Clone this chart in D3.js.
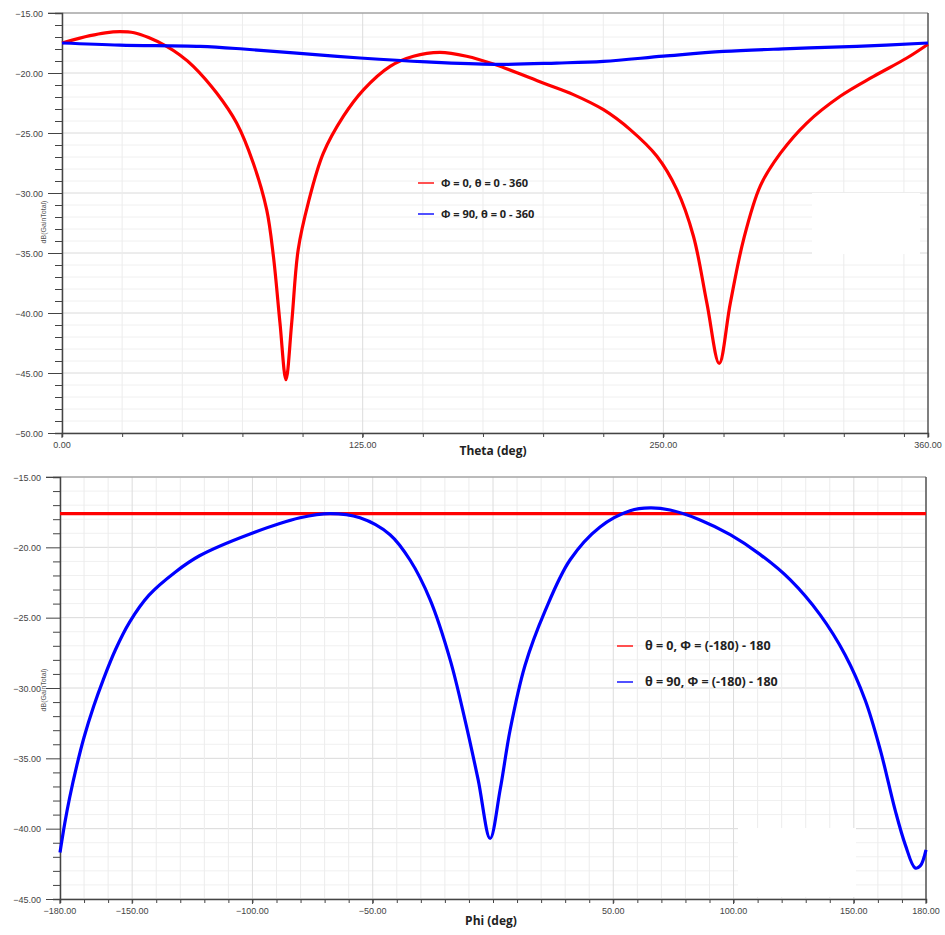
<!DOCTYPE html>
<html>
<head>
<meta charset="utf-8">
<script src="https://cdn.jsdelivr.net/npm/d3@7"></script>
<style>
  body { margin: 0; background: #fff; }
  svg { display: block; }
  .tick-label { font-family: "Liberation Sans", Arial, sans-serif; font-size: 9px; fill: #444; }
  .axis-title { font-family: "Open Sans", sans-serif; font-size: 12px; font-weight: bold; fill: #222; }
  .y-title { font-family: "Liberation Sans", Arial, sans-serif; font-size: 7px; fill: #555; }
  .legend { font-family: "Open Sans", sans-serif; font-weight: bold; fill: #222; }
</style>
</head>
<body>
<svg width="945" height="935"></svg>
<script>
// gain vs theta (phi = 0 / phi = 90)
var thetaRed = [0, 11.6, 18, 24.1, 30, 36, 43.5, 49, 54.6, 64.3, 72.6, 79.5, 85.1, 87.9, 90.6, 93.1, 95.5, 98.2, 102.4, 108.6, 117, 125.3, 136.4, 146.1, 157.1, 168.2, 180, 200, 212.6, 225.1, 236.2, 247.3, 255.6, 262.5, 268.1, 273.2, 277.8, 283.3, 290.3, 298.6, 309.6, 323.5, 337.4, 351.2, 360];
var gainRed = [-17.5, -16.89, -16.65, -16.56, -16.65, -17.05, -17.78, -18.5, -19.44, -21.67, -24.17, -27.5, -31.4, -35.3, -40.8, -45.56, -40.8, -34.7, -30.8, -26.7, -23.6, -21.4, -19.44, -18.6, -18.28, -18.6, -19.3, -20.83, -21.8, -23.06, -24.72, -26.94, -29.72, -33.6, -39.2, -44.2, -39.2, -33.9, -29.4, -26.7, -24.17, -21.94, -20.28, -18.75, -17.6];
var thetaBlue = [0, 24.1, 57.4, 75.4, 96.2, 123.9, 151.6, 180, 205.6, 225.1, 250, 275, 302.6, 330.4, 360];
var gainBlue = [-17.5, -17.67, -17.78, -18.0, -18.33, -18.75, -19.08, -19.28, -19.17, -19.03, -18.6, -18.2, -17.97, -17.78, -17.5];

// gain vs phi (theta = 0 / theta = 90)
var phiRed = [-180, 180];
var gainPhiRed = [-17.6, -17.6];
var phiBlue = [-180, -178, -176, -173, -170, -166, -162, -157, -151, -143, -132, -122, -101, -80.2, -67.7, -55.3, -42.8, -34.5, -26.2, -17.8, -11.6, -6.2, -1.2, 3, 7.1, 13.3, 21.7, 32, 44.5, 57, 65.3, 73.6, 86.1, 98.6, 111, 123.5, 136, 146.4, 154.7, 161, 167.2, 171.4, 175.5, 177.6, 180];
var gainPhiBlue = [-41.7, -39.6, -37.8, -35.5, -33.5, -31.3, -29.4, -27.3, -25.3, -23.4, -21.75, -20.6, -19.05, -17.9, -17.6, -17.9, -19.1, -20.9, -23.7, -28.0, -32.3, -36.5, -40.7, -37.2, -33, -28.4, -24.5, -20.9, -18.55, -17.4, -17.2, -17.35, -18.05, -19.1, -20.5, -22.3, -24.8, -27.65, -30.85, -34.4, -38.7, -41.15, -42.8, -42.65, -41.5];

var thetaTicks = [0, 125, 250, 360];
var phiTicks = [-180, -150, -100, -50, 50, 100, 150, 180];
var legendTop = ["\u03A6 = 0, \u03B8 = 0 - 360", "\u03A6 = 90, \u03B8 = 0 - 360"];
var legendBottom = ["\u03B8 = 0, \u03A6 = (-180) - 180", "\u03B8 = 90, \u03A6 = (-180) - 180"];

var svg = d3.select("svg");
var fmt = d3.format(".2f");

function zip(xs, ys) { return xs.map(function(x, i) { return [x, ys[i]]; }); }

function drawPanel(opt) {
    var x = d3.scaleLinear().domain(opt.xDomain).range([opt.left, opt.right]);
    var y = d3.scaleLinear().domain(opt.yDomain).range([opt.bottom, opt.top]);
    var g = svg.append("g");

    // grid: 1 dB rows, darker every 5 dB
    d3.range(opt.yDomain[0], opt.yDomain[1] + 0.01, 1).forEach(function(v) {
        var major = v % 5 === 0;
        g.append("line")
            .attr("x1", opt.left).attr("x2", opt.right)
            .attr("y1", y(v)).attr("y2", y(v))
            .attr("stroke", major ? "#dadada" : "#f0f0f0").attr("stroke-width", 1);
    });
    d3.range(opt.xDomain[0], opt.xDomain[1] + 0.01, opt.xMinor).forEach(function(v) {
        g.append("line")
            .attr("x1", x(v)).attr("x2", x(v))
            .attr("y1", opt.top).attr("y2", opt.bottom)
            .attr("stroke", opt.xTicks.indexOf(v) >= 0 || v === 0 ? "#dcdcdc" : "#ececec").attr("stroke-width", 1);
    });

    // blanked-out box
    g.append("rect")
        .attr("x", opt.blank[0]).attr("y", opt.blank[1])
        .attr("width", opt.blank[2]).attr("height", opt.blank[3])
        .attr("fill", "#fff");

    // frame
    g.append("line").attr("x1", opt.left - 14).attr("x2", opt.right)
        .attr("y1", opt.top).attr("y2", opt.top).attr("stroke", "#888");
    g.append("line").attr("x1", opt.right).attr("x2", opt.right)
        .attr("y1", opt.top).attr("y2", opt.bottom).attr("stroke", "#555").attr("stroke-width", 1.5);

    // y axis
    var yAxis = d3.axisLeft(y)
        .tickValues(d3.range(opt.yDomain[0], opt.yDomain[1] + 0.01, 1))
        .tickSize(7).tickFormat("");
    var ya = g.append("g").attr("transform", "translate(" + opt.left + ",0)").call(yAxis);
    ya.select(".domain").attr("stroke", "#444").attr("stroke-width", 1.5);
    ya.selectAll(".tick line").attr("stroke", "#444");
    ya.selectAll(".tick").filter(function(d) { return d % 5 === 0; })
        .select("line").attr("x2", -14);
    ya.selectAll(".tick").filter(function(d) { return d % 5 === 0; })
        .append("text")
        .attr("class", "tick-label")
        .attr("x", -19).attr("dy", "0.35em")
        .attr("text-anchor", "end")
        .text(function(d) { return fmt(d); });

    // x axis
    var xAxis = d3.axisBottom(x)
        .tickValues(d3.range(opt.xDomain[0], opt.xDomain[1] + 0.01, opt.xMinor))
        .tickSize(4).tickFormat("");
    var xa = g.append("g").attr("transform", "translate(0," + opt.bottom + ")").call(xAxis);
    xa.select(".domain").attr("stroke", "#444").attr("stroke-width", 1.5);
    xa.selectAll(".tick line").attr("stroke", "#444");
    opt.xTicks.forEach(function(v) {
        g.append("line").attr("x1", x(v)).attr("x2", x(v))
            .attr("y1", opt.bottom).attr("y2", opt.bottom + 5).attr("stroke", "#444");
        g.append("text")
            .attr("class", "tick-label")
            .attr("x", x(v))
            .attr("y", opt.bottom + 15)
            .attr("text-anchor", "middle")
            .text(fmt(v));
    });

    g.append("text").attr("class", "axis-title")
        .attr("x", (opt.left + opt.right) / 2 - 2)
        .attr("y", opt.bottom + opt.titleOffset)
        .attr("text-anchor", "middle")
        .text(opt.xTitle);
    g.append("text").attr("class", "y-title")
        .attr("transform", "translate(46," + opt.yTitleY + ") rotate(-90)")
        .attr("text-anchor", "middle")
        .text("dB(GainTotal)");

    var line = d3.line()
        .x(function(d) { return x(d[0]); })
        .y(function(d) { return y(d[1]); })
        .curve(d3.curveCatmullRom.alpha(0.5));

    opt.series.forEach(function(s) {
        g.append("path")
            .attr("d", line(s.data))
            .attr("fill", "none")
            .attr("stroke", s.color)
            .attr("stroke-width", 3.2)
            .attr("stroke-linejoin", "round");
    });

    // legend
    opt.series.forEach(function(s, i) {
        var ly = opt.legend[1] + i * opt.legendGap;
        g.append("line")
            .attr("x1", opt.legend[0]).attr("x2", opt.legend[0] + 16)
            .attr("y1", ly).attr("y2", ly)
            .attr("stroke", s.legendColor).attr("stroke-width", 2);
        g.append("text").attr("class", "legend")
            .attr("x", opt.legend[0] + opt.legendTextGap).attr("y", ly)
            .attr("dy", "0.35em")
            .style("font-size", opt.legendSize + "px")
            .text(s.label);
    });
}

drawPanel({
    left: 62, right: 928, top: 13, bottom: 433,
    xDomain: [0, 360], yDomain: [-50, -15], xMinor: 25,
    xTicks: thetaTicks, titleOffset: 22,
    xTitle: "Theta (deg)", yTitleY: 222,
    blank: [812, 193, 108, 61],
    legend: [418, 183], legendGap: 31, legendTextGap: 23, legendSize: 11,
    series: [
        {data: zip(thetaRed, gainRed), color: "#ff0000", legendColor: "#ff5050", label: legendTop[0]},
        {data: zip(thetaBlue, gainBlue), color: "#0000ff", legendColor: "#5050ff", label: legendTop[1]}
    ]
});

drawPanel({
    left: 60, right: 926, top: 477, bottom: 899,
    xDomain: [-180, 180], yDomain: [-45, -15], xMinor: 10,
    xTicks: phiTicks, titleOffset: 26,
    xTitle: "Phi (deg)", yTitleY: 690,
    blank: [738, 828, 118, 69],
    legend: [617, 646], legendGap: 36, legendTextGap: 28, legendSize: 12.5,
    series: [
        {data: zip(phiRed, gainPhiRed), color: "#ff0000", legendColor: "#ff5050", label: legendBottom[0]},
        {data: zip(phiBlue, gainPhiBlue), color: "#0000ff", legendColor: "#5050ff", label: legendBottom[1]}
    ]
});
</script>
</body>
</html>
